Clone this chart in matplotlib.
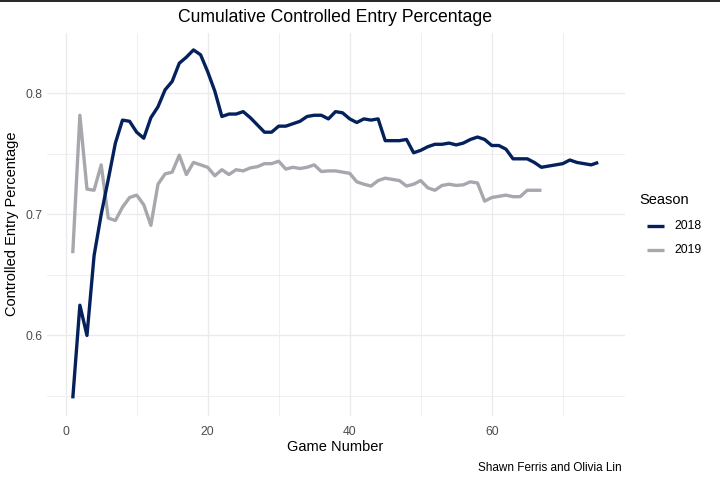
import matplotlib
matplotlib.use("Agg")
import matplotlib.pyplot as plt
from matplotlib.lines import Line2D
import numpy as np

plt.rcParams['font.family'] = ['Liberation Sans', 'DejaVu Sans']

title = "Cumulative Controlled Entry Percentage"
x_label = "Game Number"
y_label = "Controlled Entry Percentage"
caption = "Shawn Ferris and Olivia Lin"
legend_title = "Season"
seasons = ["2018", "2019"]

pct_2018 = [0.548, 0.625, 0.600, 0.666, 0.700, 0.729, 0.759, 0.778, 0.777, 0.768,
            0.763, 0.780, 0.789, 0.803, 0.810, 0.825, 0.830, 0.836, 0.832, 0.818,
            0.802, 0.781, 0.783, 0.783, 0.785, 0.780, 0.774, 0.768, 0.768, 0.773,
            0.773, 0.775, 0.777, 0.781, 0.782, 0.782, 0.779, 0.785, 0.784, 0.779,
            0.776, 0.779, 0.778, 0.779, 0.761, 0.761, 0.761, 0.762, 0.751, 0.753,
            0.756, 0.758, 0.758, 0.759, 0.7575, 0.759, 0.762, 0.764, 0.762, 0.757,
            0.757, 0.754, 0.746, 0.746, 0.746, 0.743, 0.739, 0.740, 0.741, 0.742,
            0.745, 0.743, 0.742, 0.741, 0.743]
pct_2019 = [0.668, 0.782, 0.721, 0.720, 0.741, 0.697, 0.695, 0.706, 0.714, 0.716,
            0.708, 0.691, 0.725, 0.7335, 0.735, 0.749, 0.733, 0.743, 0.741, 0.739,
            0.732, 0.737, 0.733, 0.737, 0.736, 0.7385, 0.7395, 0.742, 0.742, 0.744,
            0.7375, 0.739, 0.738, 0.739, 0.741, 0.7355, 0.736, 0.736, 0.735, 0.734,
            0.727, 0.725, 0.7235, 0.728, 0.730, 0.729, 0.728, 0.7235, 0.725, 0.728,
            0.722, 0.720, 0.724, 0.725, 0.724, 0.7245, 0.727, 0.726, 0.711, 0.714,
            0.715, 0.716, 0.7147, 0.7147, 0.720, 0.720, 0.720]
games_2018 = list(range(1, len(pct_2018) + 1))
games_2019 = list(range(1, len(pct_2019) + 1))

x_major = [0, 20, 40, 60]
x_minor = [10, 30, 50, 70]
y_major = [0.6, 0.7, 0.8]
y_minor = [0.55, 0.65, 0.75]

colors = {"2018": "#04215C", "2019": "#A7A7AE"}

W, H = 720, 482
fig = plt.figure(figsize=(W / 100, H / 100), dpi=100)
# panel in pixels
pl, pr, pt, pb = 46.5, 624.5, 32.5, 415.8
ax = fig.add_axes([pl / W, 1 - pb / H, (pr - pl) / W, (pb - pt) / H])

all_x = games_2018 + games_2019
all_y = pct_2018 + pct_2019
xr = max(all_x) - min(all_x)
yr = max(all_y) - min(all_y)
ax.set_xlim(min(all_x) - 0.05 * xr, max(all_x) + 0.05 * xr)
ax.set_ylim(min(all_y) - 0.05 * yr, max(all_y) + 0.05 * yr)

grid_c = "#EBEBEB"
for v in x_minor:
    ax.axvline(v, color=grid_c, lw=0.55, zorder=0)
for v in y_minor:
    ax.axhline(v, color=grid_c, lw=0.55, zorder=0)
for v in x_major:
    ax.axvline(v, color=grid_c, lw=1.0, zorder=0)
for v in y_major:
    ax.axhline(v, color=grid_c, lw=1.0, zorder=0)

ax.plot(games_2018, pct_2018, color=colors["2018"], lw=2.4, solid_capstyle='butt',
        solid_joinstyle='round', label="2018", zorder=3)
ax.plot(games_2019, pct_2019, color=colors["2019"], lw=2.4, solid_capstyle='butt',
        solid_joinstyle='round', label="2019", zorder=2)

for s in ax.spines.values():
    s.set_visible(False)
ax.set_xticks(x_major)
ax.set_yticks(y_major)
ax.set_xticklabels([str(v) for v in x_major])
ax.set_yticklabels([f"{v:.1f}" for v in y_major])
ax.tick_params(axis='both', length=0, labelsize=8.8, labelcolor="#4D4D4D")
ax.tick_params(axis='x', pad=7)
ax.tick_params(axis='y', pad=3)

fig.text((pl + pr) / 2 / W, 1 - 17 / H, title, ha='center', va='center', fontsize=12.7, color='black')
fig.text((pl + pr) / 2 / W, 1 - 447 / H, x_label, ha='center', va='center', fontsize=10.5, color='black')
fig.text(12 / W, 1 - 224 / H, y_label, ha='center', va='center', rotation=90, fontsize=10.5, color='black')
fig.text(622 / W, 1 - 468 / H, caption, ha='right', va='center', fontsize=8.5, color='black')

# legend
fig.text(639 / W, 1 - 200 / H, legend_title, ha='left', va='center', fontsize=10.5, color='black')
for i, s in enumerate(seasons):
    yy = 1 - (226 + 24 * i) / H
    fig.add_artist(Line2D([647 / W, 664 / W], [yy, yy], color=colors[s], lw=2.4,
                          solid_capstyle='butt', transform=fig.transFigure))
    fig.text(674 / W, yy, s, ha='left', va='center', fontsize=8.8, color='black')

# top border line
fig.add_artist(Line2D([0, 1], [1 - 0.6 / H, 1 - 0.6 / H], color='black', lw=1.2,
                      transform=fig.transFigure))

fig.savefig("out.png", dpi=100, facecolor='white')
